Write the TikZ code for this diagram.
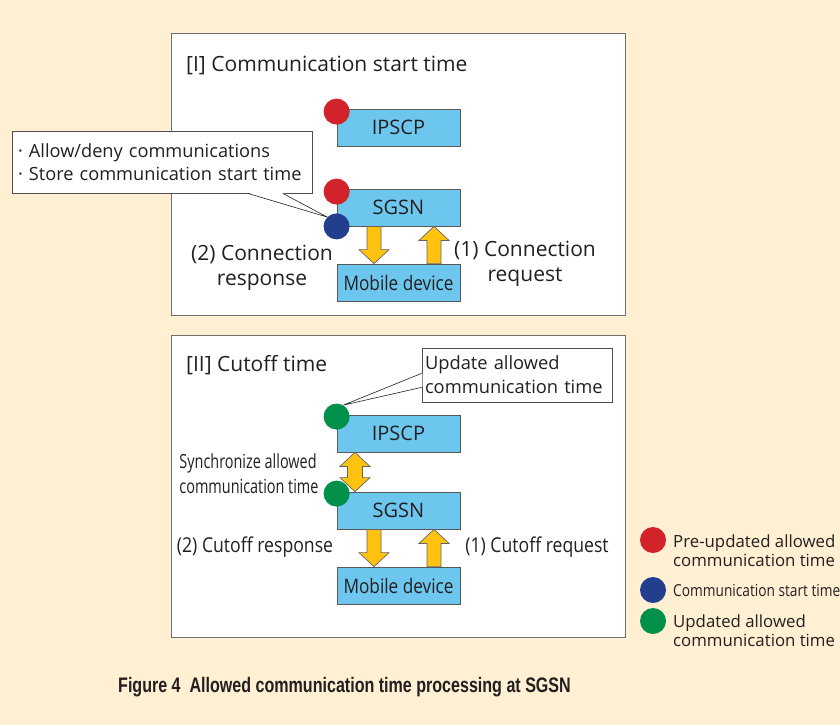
\documentclass[tikz,border=0pt]{standalone}
\usepackage{fontspec}
\setmainfont{Open Sans}
\newfontfamily\narrowfont[FakeStretch=0.74]{Open Sans}
\newfontfamily\midfont[FakeStretch=0.86]{Open Sans}
\newfontfamily\keyfont[FakeStretch=0.83]{Open Sans}
\newfontfamily\capfont[FakeStretch=0.765]{Liberation Sans}
\usetikzlibrary{calc}
\definecolor{cream}{HTML}{FFF0D3}
\definecolor{boxblue}{HTML}{6CC6EE}
\definecolor{dotred}{HTML}{D2232A}
\definecolor{dotblue}{HTML}{233E8C}
\definecolor{dotgreen}{HTML}{00904A}
\definecolor{arrowyellow}{HTML}{FFC20E}
\definecolor{ink}{HTML}{231F20}
\newcommand{\fs}[2]{\fontsize{#1}{#2}\selectfont}
% block arrow: tail #1, tip #2 (vertical)
\newcommand{\fatarrow}[2]{%
  \draw[fat] let \p1=(#1), \p2=(#2), \n1={sign(\y1-\y2)} in
    (\x1-7pt,\y1) -- (\x1-7pt,\y2+\n1*14pt) -- (\x1-15pt,\y2+\n1*14pt) -- (\x2,\y2)
    -- (\x1+15pt,\y2+\n1*14pt) -- (\x1+7pt,\y2+\n1*14pt) -- (\x1+7pt,\y1) -- cycle;}
% block arrow with two heads
\newcommand{\dblarrow}[2]{%
  \draw[fat] let \p1=(#1), \p2=(#2), \n1={sign(\y1-\y2)} in
    (\x1,\y1) -- (\x1+15pt,\y1-\n1*14pt) -- (\x1+7.5pt,\y1-\n1*14pt) -- (\x1+7.5pt,\y2+\n1*14pt)
    -- (\x1+15pt,\y2+\n1*14pt) -- (\x2,\y2) -- (\x1-15pt,\y2+\n1*14pt) -- (\x1-7.5pt,\y2+\n1*14pt)
    -- (\x1-7.5pt,\y1-\n1*14pt) -- (\x1-15pt,\y1-\n1*14pt) -- cycle;}
\begin{document}
\begin{tikzpicture}[x=1pt,y=-1pt,line join=miter,
  panel/.style={draw=ink!65,fill=white,line width=0.7pt},
  unit/.style={draw=ink!75,fill=boxblue,line width=0.8pt,minimum width=123pt,minimum height=37pt,inner sep=0pt,text=ink,font=\fs{20}{24}},
  dot/.style={circle,inner sep=0pt,minimum size=26pt},
  fat/.style={draw=ink!70,fill=arrowyellow,line width=0.7pt},
  note/.style={draw=ink!80,fill=white,line width=0.7pt,inner xsep=7pt,inner ysep=0pt,align=left,text=ink},
  lbl/.style={text=ink,inner sep=0pt}]
\fill[cream] (0,0) rectangle (840,725);
\clip (0,0) rectangle (840,725);
%[I] Communication start time
\draw[panel] (171,33) rectangle (625,315);
\node[lbl,anchor=base west,font=\fs{21}{25}] (titleA) at (186,71) {[I] Communication start time};
\node[unit] (ipscpA) at (398.5,127.5) {IPSCP};
\node[unit] (sgsnA) at (398.5,207.5) {SGSN};
\node[unit,font=\midfont\fs{20}{24}] (mobA) at (398.5,282.5) {Mobile device};
\fatarrow{[xshift=-24.5pt]sgsnA.south}{[xshift=-24.5pt]mobA.north}
\fatarrow{[xshift=35.5pt]mobA.north}{[xshift=35.5pt]sgsnA.south}
\node[dot,fill=dotred] (dotA) at ([yshift=-3pt]ipscpA.north west) {};
\node[dot,fill=dotred] (dotB1) at ([yshift=-3pt]sgsnA.north west) {};
\node[dot,fill=dotblue] (dotB) at (sgsnA.south west) {};
\node[lbl,align=center,font=\fs{21}{25}] (respA) at (262,268) {(2) Connection\\response};
\node[lbl,align=center,font=\fs{21}{25}] (reqA) at (525,264) {(1) Connection\\request};
\node[note,minimum width=300pt,minimum height=62pt,text width=288pt,inner xsep=6pt,font=\fs{18.2}{23.5}] (noteA) at (162,162)
  {· Allow/deny communications\\· Store communication start time};
\fill[white] ([xshift=236pt,yshift=0.6pt]noteA.south west) -- (dotB.135) -- ([xshift=271pt,yshift=0.6pt]noteA.south west) -- cycle;
\draw[ink,line width=0.6pt] ([xshift=236pt]noteA.south west) -- (dotB.135) -- ([xshift=271pt]noteA.south west);
%[II] Cutoff time
\draw[panel] (171,335) rectangle (625,637);
\node[lbl,anchor=base west,font=\fs{21}{25}] (titleB) at (186,371) {[II] Cutoff time};
\node[unit] (ipscpB) at (398.5,433.5) {IPSCP};
\node[unit] (sgsnB) at (398.5,510.5) {SGSN};
\node[unit,font=\midfont\fs{20}{24}] (mobB) at (398.5,585.5) {Mobile device};
\dblarrow{[xshift=-43.5pt]ipscpB.south}{[xshift=-43.5pt]sgsnB.north}
\fatarrow{[xshift=-24.5pt]sgsnB.south}{[xshift=-24.5pt]mobB.north}
\fatarrow{[xshift=35.5pt]mobB.north}{[xshift=35.5pt]sgsnB.south}
\node[dot,fill=dotgreen] (dotC) at ([yshift=-2pt]ipscpB.north west) {};
\node[dot,fill=dotgreen] (dotD) at ([yshift=-2pt]sgsnB.north west) {};
\node[lbl,align=left,font=\narrowfont\fs{19.5}{25}] (syncB) at (249,474) {Synchronize allowed\\communication time};
\node[lbl,font=\midfont\fs{20.5}{25}] (respB) at (255,547) {(2) Cutoff response};
\node[lbl,font=\midfont\fs{20.5}{25}] (reqB) at (537,547) {(1) Cutoff request};
\node[note,minimum width=190pt,minimum height=54pt,text width=184pt,inner xsep=3pt,font=\fs{18.3}{24}] (noteB) at (517,375)
  {Update allowed\\communication time};
\fill[white] ([yshift=29pt,xshift=0.6pt]noteB.south west) -- (dotC.60) -- ([yshift=15pt,xshift=0.6pt]noteB.south west) -- cycle;
\draw[ink,line width=0.6pt] ([yshift=29pt]noteB.south west) -- (dotC.60) -- ([yshift=15pt]noteB.south west);
%legend
\node[dot,fill=dotred] (keyRed) at (653,540) {};
\node[dot,fill=dotblue] (keyBlue) at (653,590) {};
\node[dot,fill=dotgreen] (keyGreen) at (653,621) {};
\node[lbl,anchor=west,align=left,font=\fs{16.8}{19}] (keyRedText) at (673,551) {Pre-updated allowed\\communication time};
\node[lbl,anchor=west,font=\keyfont\fs{16.5}{19}] (keyBlueText) at (673,591) {Communication start time};
\node[lbl,anchor=west,align=left,font=\fs{16.8}{19}] (keyGreenText) at (673,631) {Updated allowed\\communication time};
%caption
\node[lbl,anchor=west,font=\capfont\bfseries\fs{21}{25}] (caption) at (118,687) {Figure 4\ \ Allowed communication time processing at SGSN};
\end{tikzpicture}
\end{document}
